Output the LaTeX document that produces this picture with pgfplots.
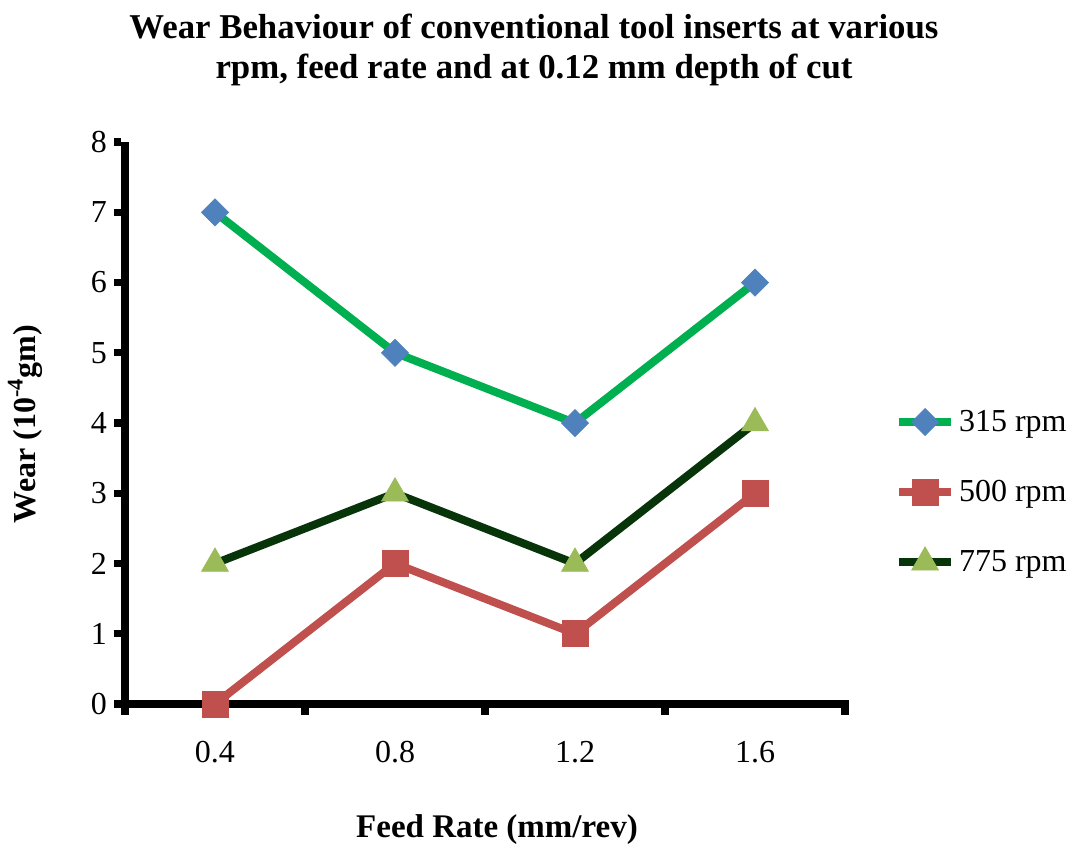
\documentclass[border=0pt]{standalone}
\usepackage{pgfplots}
\pgfplotsset{compat=1.18}
\usepackage{fontspec}
\setmainfont{Liberation Serif}
\definecolor{cgreen}{RGB}{0,176,80}
\definecolor{cblue}{RGB}{79,129,189}
\definecolor{cred}{RGB}{192,80,77}
\definecolor{cdark}{RGB}{8,52,10}
\definecolor{colive}{RGB}{155,187,89}
\begin{document}
\begin{tikzpicture}
\useasboundingbox (0,0) rectangle (536pt,424pt);
\begin{axis}[
  at={(62.5pt,72pt)}, anchor=south west,
  scale only axis, width=360pt, height=281pt,
  xmin=0, xmax=4, ymin=0, ymax=8,
  axis x line*=bottom, axis y line*=left,
  axis line style={draw=none},
  xtick={0,1,2,3,4}, xticklabels={},
  extra x ticks={0.5,1.5,2.5,3.5},
  extra x tick labels={0.4,0.8,1.2,1.6},
  extra x tick style={major tick length=0pt, tick label style={yshift=-15pt}},
  ytick={0,1,...,8},
  tick align=outside,
  major tick length=5.5pt,
  tick style={draw=none},
  tick label style={font=\fontsize{16}{19}\selectfont},
  /pgf/number format/assume math mode=true,
  clip=false,
  legend style={draw=none, at={(1.069,0.377)}, anchor=west,
    font=\fontsize{16}{19}\selectfont, row sep=19pt, inner sep=0pt,
    legend cell align=left, /tikz/every even column/.append style={column sep=2pt}},
  legend image code/.code={\draw[mark repeat=2,mark phase=2] plot coordinates {(0pt,0pt)(13pt,0pt)(26pt,0pt)};},
]
\draw[line width=3.6pt] (rel axis cs:0,0) -- (rel axis cs:0,1);
\draw[line width=3.6pt] ([xshift=-1.8pt]rel axis cs:0,0) -- ([xshift=1.8pt]rel axis cs:1,0);
\pgfplotsinvokeforeach{0,...,8}{
  \draw[line width=3.6pt] ([xshift=-1.8pt]axis cs:0,#1) -- ([xshift=-5.3pt]axis cs:0,#1);
}
\pgfplotsinvokeforeach{0,...,4}{
  \draw[line width=3.6pt] ([yshift=-1.8pt]axis cs:#1,0) -- ([yshift=-5.3pt]axis cs:#1,0);
}
\addplot[color=cgreen, line width=4pt, mark=square*, mark size=4.8pt,
  mark options={fill=cblue, draw=cblue, line width=0.3pt, rotate=45}]
  coordinates {(0.5,7) (1.5,5) (2.5,4) (3.5,6)};
\addlegendentry{315 rpm}
\addplot[color=cred, line width=4pt, mark=square*, mark size=6.5pt,
  mark options={fill=cred, draw=cred, line width=0.3pt}]
  coordinates {(0.5,0) (1.5,2) (2.5,1) (3.5,3)};
\addlegendentry{500 rpm}
\addplot[color=cdark, line width=4pt, mark=triangle*, mark size=7.8pt,
  mark options={fill=colive, draw=colive, line width=0.3pt}]
  coordinates {(0.5,2) (1.5,3) (2.5,2) (3.5,4)};
\addlegendentry{775 rpm}
\end{axis}
\node[font=\fontsize{17.4}{20}\selectfont\bfseries, align=center] at (267pt,399pt)
  {Wear Behaviour of conventional tool inserts at various\\rpm, feed rate and at 0.12 mm depth of cut};
\node[font=\fontsize{16.5}{19}\selectfont\bfseries] at (248.5pt,9pt) {Feed Rate (mm/rev)};
\node[font=\fontsize{16}{19}\selectfont\bfseries, rotate=90] at (12.5pt,212pt) {Wear (10\textsuperscript{-4}gm)};
\end{tikzpicture}
\end{document}
